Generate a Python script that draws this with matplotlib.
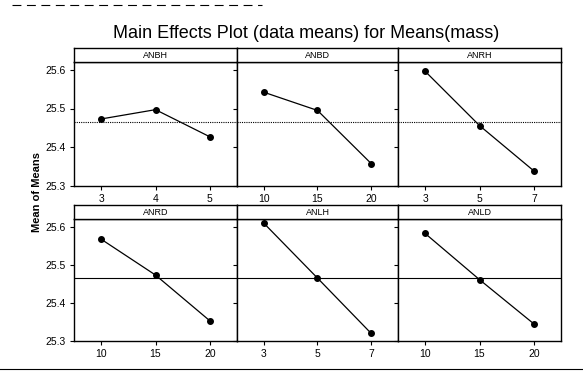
import numpy as np
import matplotlib
matplotlib.use("Agg")
import matplotlib.pyplot as plt
from matplotlib.lines import Line2D

plt.rcParams['font.family'] = ['Liberation Sans', 'DejaVu Sans']

# factor names, levels and level means
factors = ['ANBH', 'ANBD', 'ANRH', 'ANRD', 'ANLH', 'ANLD']
levels = [[3, 4, 5], [10, 15, 20], [3, 5, 7],
          [10, 15, 20], [3, 5, 7], [10, 15, 20]]
anbh = [25.473, 25.497, 25.427]
anbd = [25.542, 25.495, 25.358]
anrh = [25.596, 25.456, 25.339]
anrd = [25.567, 25.473, 25.353]
anlh = [25.609, 25.465, 25.320]
anld = [25.582, 25.461, 25.345]
means = [anbh, anbd, anrh, anrd, anlh, anld]
grand_mean = 25.465
yticks = [25.3, 25.4, 25.5, 25.6]

W, H = 583, 378
fig = plt.figure(figsize=(W / 100, H / 100), dpi=100)

def px_axes(x0, y0, x1, y1):
    # pixel box (from top left) -> figure axes
    return fig.add_axes([x0 / W, 1 - y1 / H, (x1 - x0) / W, (y1 - y0) / H])

cols = [(74, 237), (237, 398), (398, 561)]
rows = [(48, 62, 186), (205, 219, 341)]   # strip top, strip bottom, axis bottom

for i, name in enumerate(factors):
    r, c = divmod(i, 3)
    x0, x1 = cols[c]
    st, sb, ab = rows[r]
    ax = px_axes(x0, sb, x1, ab)
    pos = np.arange(len(levels[i]))
    ax.plot(pos, means[i], color='black', lw=0.9, marker='o', ms=4)
    ax.axhline(grand_mean, color='black', lw=0.8,
               ls=(0, (1, 1)) if r == 0 else '-')
    ax.set_xlim(-0.5, 2.5)
    ax.set_ylim(25.3, 25.62)
    ax.set_xticks(pos)
    ax.set_xticklabels([str(v) for v in levels[i]], fontsize=7.5)
    ax.set_yticks(yticks)
    if c == 0:
        ax.set_yticklabels([f'{v:.1f}' for v in yticks], fontsize=7.5)
    else:
        ax.set_yticklabels([])
        ax.tick_params(axis='y', length=0)
    ax.tick_params(direction='out', length=3, width=0.8, pad=3)
    for s in ax.spines.values():
        s.set_linewidth(1.0)
    # strip with factor name
    sax = px_axes(x0, st, x1, sb)
    sax.set_xticks([])
    sax.set_yticks([])
    for s in sax.spines.values():
        s.set_linewidth(1.0)
    sax.text(0.5, 0.45, name, ha='center', va='center', fontsize=6.5,
             transform=sax.transAxes)

fig.text(306 / W, 1 - 33 / H, 'Main Effects Plot (data means) for Means(mass)',
         ha='center', va='center', fontsize=13)
fig.text(37 / W, 1 - 192 / H, 'Mean of Means', rotation=90,
         ha='center', va='center', fontsize=8, fontweight='bold')

# scanned page edges
fig.add_artist(Line2D([0, 1], [1 - 369 / H, 1 - 369 / H], color='black', lw=0.8))
fig.add_artist(Line2D([0.02, 0.45], [1 - 5 / H, 1 - 5 / H], color='black',
                      lw=0.8, ls=(0, (8, 5))))

fig.savefig('out.png', dpi=100)
